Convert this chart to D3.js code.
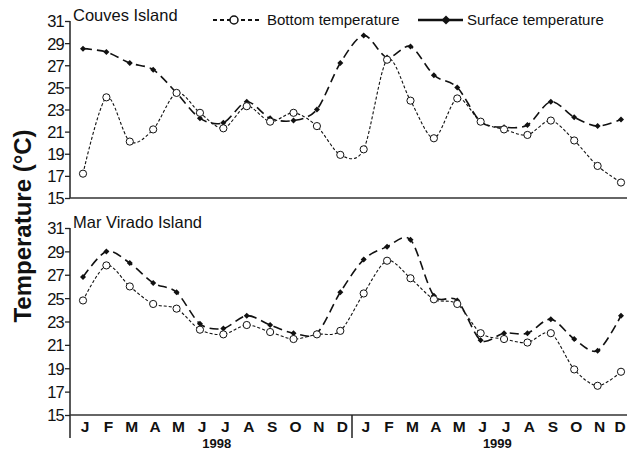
<!DOCTYPE html>
<html>
<head>
<meta charset="utf-8">
<script src="https://cdn.jsdelivr.net/npm/d3@7"></script>
<style>
  body { margin: 0; background: #fff; }
  svg text { font-family: "Liberation Sans", Arial, sans-serif; fill: #111; }
</style>
</head>
<body>
<div id="chart"></div>
<script>
// month labels (two years)
const months = ['J','F','M','A','M','J','J','A','S','O','N','D',
                'J','F','M','A','M','J','J','A','S','O','N','D']
const years = ['1998', '1999']
const yTicks = [15, 17, 19, 21, 23, 25, 27, 29, 31]

// Couves Island
const couvesBottom = [17.2, 24.1, 20.1, 21.2, 24.5, 22.7, 21.3, 23.3, 21.9, 22.7, 21.5, 18.9,
                      19.4, 27.5, 23.8, 20.4, 24.0, 21.9, 21.2, 20.7, 22.0, 20.2, 17.9, 16.4]
const couvesSurface = [28.5, 28.2, 27.2, 26.6, 24.5, 22.2, 21.8, 23.7, 22.2, 22.0, 23.0, 27.2,
                       29.7, 27.7, 28.7, 26.1, 25.0, 21.9, 21.4, 21.6, 23.7, 22.3, 21.5, 22.1]

// Mar Virado Island
const viradoBottom = [24.8, 27.8, 26.0, 24.5, 24.1, 22.3, 21.9, 22.7, 22.1, 21.5, 21.9, 22.2,
                      25.4, 28.2, 26.7, 24.9, 24.5, 22.0, 21.5, 21.2, 22.0, 18.9, 17.5, 18.7]
const viradoSurface = [26.8, 29.0, 28.0, 26.3, 25.5, 22.8, 22.4, 23.5, 22.7, 22.0, 22.0, 25.5,
                       28.3, 29.4, 30.0, 25.2, 24.8, 21.4, 22.0, 22.0, 23.2, 21.5, 20.5, 23.5]

const W = 627, H = 451
const axisX = 70

const svg = d3.select('#chart')
    .append('svg')
    .attr('width', W)
    .attr('height', H)

svg.append('rect').attr('width', W).attr('height', H).attr('fill', '#fff')

const x = d3.scalePoint()
    .domain(d3.range(months.length))
    .range([83, 621])

const panels = [
    { name: 'Couves Island', bottom: couvesBottom, surface: couvesSurface, top: 21, base: 198, extend: 0 },
    { name: 'Mar Virado Island', bottom: viradoBottom, surface: viradoSurface, top: 228, base: 415, extend: 23 }
]

const diamond = d3.symbol(d3.symbolSquare)

panels.forEach(p => {
    const y = d3.scaleLinear().domain([15, 31]).range([p.base, p.top])
    const g = svg.append('g')

    // y axis
    const yAxis = d3.axisLeft(y).tickValues(yTicks).tickSize(5).tickPadding(1)
    const ax = g.append('g')
        .attr('transform', `translate(${axisX},0)`)
        .call(yAxis)
    ax.select('.domain').remove()
    ax.selectAll('.tick line').attr('stroke', '#222').attr('stroke-width', 1.3)
    ax.selectAll('.tick text')
        .attr('font-size', 16.5)
        .attr('letter-spacing', -0.8)
        .attr('fill', '#111')
        .attr('dy', '0.36em')

    g.append('line')
        .attr('x1', axisX).attr('x2', axisX)
        .attr('y1', p.top).attr('y2', p.base + p.extend)
        .attr('stroke', '#222').attr('stroke-width', 1.5)

    // x baseline
    g.append('line')
        .attr('x1', axisX).attr('x2', W)
        .attr('y1', p.base).attr('y2', p.base)
        .attr('stroke', '#333').attr('stroke-width', 1.5)

    g.append('text')
        .attr('x', axisX + 3)
        .attr('y', p.top)
        .attr('font-size', 16.5)
        .text(p.name)

    const line = vals => d3.line()
        .x((d, i) => x(i))
        .y(d => y(d))
        .curve(d3.curveCardinal.tension(0.1))(vals)

    g.append('path')
        .attr('d', line(p.surface))
        .attr('fill', 'none')
        .attr('stroke', '#111')
        .attr('stroke-width', 1.6)
        .attr('stroke-dasharray', '9,5')

    g.append('path')
        .attr('d', line(p.bottom))
        .attr('fill', 'none')
        .attr('stroke', '#111')
        .attr('stroke-width', 1.1)
        .attr('stroke-dasharray', '3,2')

    g.selectAll('.dia')
        .data(p.surface)
        .join('path')
        .attr('class', 'dia')
        .attr('d', diamond.size(18))
        .attr('transform', (d, i) => `translate(${x(i)},${y(d)}) rotate(45)`)
        .attr('fill', '#111')

    g.selectAll('.circ')
        .data(p.bottom)
        .join('circle')
        .attr('class', 'circ')
        .attr('cx', (d, i) => x(i))
        .attr('cy', d => y(d))
        .attr('r', 3.6)
        .attr('fill', '#fff')
        .attr('stroke', '#111')
        .attr('stroke-width', 1)
})

// month labels
svg.selectAll('.month')
    .data(months)
    .join('text')
    .attr('class', 'month')
    .attr('x', (d, i) => Math.min(x(i) + 2, W - 7))
    .attr('y', 432)
    .attr('text-anchor', 'middle')
    .attr('font-size', 15.5)
    .attr('font-weight', 'bold')
    .text(d => d)

// separator between years
svg.append('line')
    .attr('x1', 352).attr('x2', 352)
    .attr('y1', 415).attr('y2', 438)
    .attr('stroke', '#222').attr('stroke-width', 1.5)

svg.selectAll('.year')
    .data(years)
    .join('text')
    .attr('class', 'year')
    .attr('x', (d, i) => (x(5 + i * 12) + x(6 + i * 12)) / 2 + 5)
    .attr('y', 448)
    .attr('text-anchor', 'middle')
    .attr('font-size', 13)
    .attr('font-weight', 'bold')
    .text(d => d)

// y title
svg.append('text')
    .attr('transform', 'translate(31,226) rotate(-90)')
    .attr('text-anchor', 'middle')
    .attr('font-size', 24)
    .attr('font-weight', 'bold')
    .text('Temperature (°C)')

// legend
const lg = svg.append('g')
lg.append('line')
    .attr('x1', 213).attr('x2', 262).attr('y1', 20).attr('y2', 20)
    .attr('stroke', '#111').attr('stroke-width', 2).attr('stroke-dasharray', '4,3')
lg.append('circle')
    .attr('cx', 234).attr('cy', 20).attr('r', 4)
    .attr('fill', '#fff').attr('stroke', '#111').attr('stroke-width', 1.5)
lg.append('text').attr('x', 267).attr('y', 25).attr('font-size', 15).text('Bottom temperature')

lg.append('line')
    .attr('x1', 418).attr('x2', 463).attr('y1', 20).attr('y2', 20)
    .attr('stroke', '#111').attr('stroke-width', 2.5)
lg.append('path')
    .attr('d', d3.symbol(d3.symbolSquare).size(40)())
    .attr('transform', 'translate(446,20) rotate(45)')
    .attr('fill', '#111')
lg.append('text').attr('x', 467).attr('y', 25).attr('font-size', 15).text('Surface temperature')
</script>
</body>
</html>
